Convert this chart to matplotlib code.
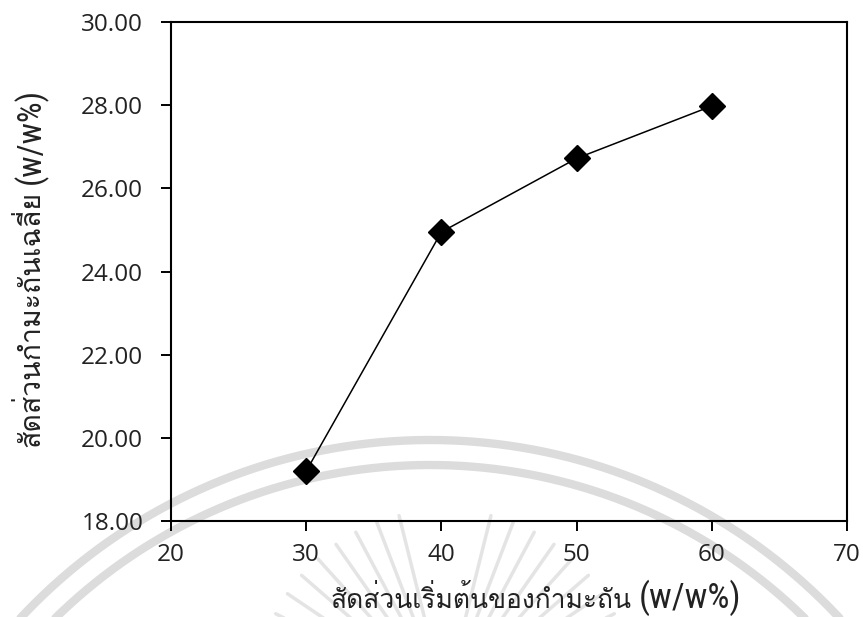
import numpy as np
import matplotlib
matplotlib.use("Agg")
import matplotlib.pyplot as plt
from matplotlib import font_manager
from matplotlib.ft2font import FT2Font
from matplotlib.lines import Line2D

# Data
initial_ratio = [30, 40, 50, 60]            # สัดส่วนเริ่มต้นของกำมะถัน (w/w%)
mean_sulfur = [19.20, 24.95, 26.72, 27.98]  # สัดส่วนกำมะถันเฉลี่ย (w/w%)
x_ticks = [20, 30, 40, 50, 60, 70]
y_ticks = [18, 20, 22, 24, 26, 28, 30]
x_label_th = "สัดส่วนเริ่มต้นของกำมะถัน"
y_label_th = "สัดส่วนกำมะถันเฉลี่ย"
unit_label = "(w/w%)"


def find_thai_family():
    seen = set()
    for f in font_manager.fontManager.ttflist:
        if f.name in seen:
            continue
        seen.add(f.name)
        try:
            cmap = FT2Font(f.fname).get_charmap()
        except Exception:
            continue
        if 0x0E2A in cmap and 0x0E31 in cmap:
            return f.name
    return None


def installed(name):
    return any(f.name == name for f in font_manager.fontManager.ttflist)


thai = find_thai_family()
thai_fams = ([thai] if thai else []) + ["DejaVu Sans"]
tick_fam = ["Open Sans", "DejaVu Sans"] if installed("Open Sans") else ["DejaVu Sans"]
narrow = [n for n in ("Liberation Sans Narrow", "Roboto Condensed",
                      "Open Sans Condensed", "DejaVu Sans Condensed")
          if installed(n)]
unit_fam = narrow[:1] + ["DejaVu Sans"]
plt.rcParams["font.family"] = tick_fam

W, H, DPI = 863, 617, 100
fig = plt.figure(figsize=(W / DPI, H / DPI), dpi=DPI)
fig.patch.set_facecolor("white")


def px(x, y):
    """Pixel position (origin top-left) to figure fraction."""
    return np.asarray(x) / W, 1 - np.asarray(y) / H


# faint seal in the background
arc_grey = "#dcdcdc"
ray_grey = "#e4e4e4"
cx, cy = 430, 1000
for r in (560, 535):
    th = np.linspace(np.radians(150), np.radians(30), 300)
    fx, fy = px(cx + r * np.cos(th), cy - r * np.sin(th))
    fig.add_artist(Line2D(fx, fy, color=arc_grey, lw=6, zorder=-2,
                          transform=fig.transFigure, solid_capstyle="round"))
rx, ry = 445, 700
for ang in list(range(104, 176, 7)) + list(range(6, 78, 7)):
    a = np.radians(ang)
    r0, r1 = 80, 190
    fx, fy = px([rx + r0 * np.cos(a), rx + r1 * np.cos(a)],
                [ry - r0 * np.sin(a), ry - r1 * np.sin(a)])
    fig.add_artist(Line2D(fx, fy, color=ray_grey, lw=2.5, zorder=-2,
                          transform=fig.transFigure, solid_capstyle="round"))

ax = fig.add_axes([171 / W, 1 - 521 / H, (847 - 171) / W, (521 - 22) / H])
ax.set_facecolor("none")

ax.plot(initial_ratio, mean_sulfur, color="black", lw=1.1,
        marker="D", markersize=13, markerfacecolor="black",
        markeredgecolor="black", zorder=3)

ax.set_xlim(20, 70)
ax.set_ylim(18, 30)
ax.set_xticks(x_ticks)
ax.set_yticks(y_ticks)
ax.set_xticklabels([str(v) for v in x_ticks])
ax.set_yticklabels([f"{v:.2f}" for v in y_ticks])
ax.tick_params(direction="out", length=7, width=1.4, labelsize=17.5,
               colors="black", labelcolor="#222222")
ax.tick_params(axis="y", pad=13)
ax.tick_params(axis="x", pad=9)
for s in ax.spines.values():
    s.set_linewidth(1.5)
    s.set_color("black")

# axis titles: Thai text followed by the unit in a narrow face
bx, by = px(330, 608)
fig.text(bx, by, x_label_th, fontsize=19, ha="left", va="baseline",
         family=thai_fams, color="#222222")
ux, uy = px(639, 608)
fig.text(ux, uy, unit_label, fontsize=25, ha="left", va="baseline",
         family=unit_fam, fontstretch="condensed", color="#222222")

lx, ly = px(39, 447)
fig.text(lx, ly, y_label_th, fontsize=20.5, rotation=90, ha="left",
         va="baseline", family=thai_fams, rotation_mode="anchor",
         color="#222222")
vx, vy = px(40, 184)
fig.text(vx, vy, unit_label, fontsize=23.5, rotation=90, ha="left",
         va="baseline", family=unit_fam, fontstretch="condensed",
         rotation_mode="anchor", color="#222222")

fig.savefig("out.png", dpi=DPI)
